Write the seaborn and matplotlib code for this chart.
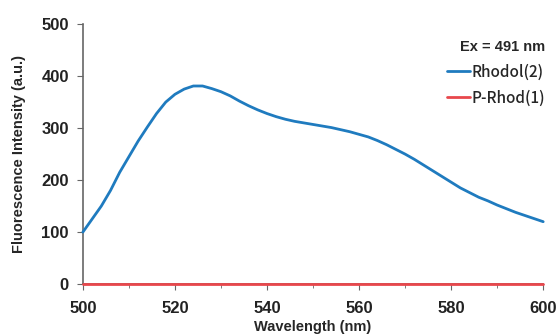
import numpy as np
import pandas as pd
import matplotlib
matplotlib.use("Agg")
import matplotlib.pyplot as plt
import seaborn as sns
from matplotlib.ticker import MultipleLocator

wavelength = [500, 502, 504, 506, 508, 510, 512, 514, 516, 518, 520, 522, 524, 526, 528,
              530, 532, 534, 536, 538, 540, 542, 544, 546, 548, 550, 552, 554, 556, 558,
              560, 562, 564, 566, 568, 570, 572, 574, 576, 578, 580, 582, 584, 586, 588,
              590, 592, 594, 596, 598, 600]
rhodol = [100, 125, 150, 180, 215, 245, 275, 302, 328, 350, 365, 375, 381, 381, 376,
          370, 362, 352, 343, 335, 328, 322, 317, 313, 310, 307, 304, 301, 297, 293,
          288, 283, 276, 268, 259, 250, 240, 229, 218, 207, 196, 185, 176, 167, 160,
          152, 145, 138, 132, 126, 120]
prhod = [0] * len(wavelength)
series_names = ["Rhodol(2)", "P-Rhod(1)"]
colors = ["#1f7bbf", "#e8474c"]

df = pd.concat([
    pd.DataFrame({"Wavelength": wavelength, "Intensity": rhodol, "Sample": series_names[0]}),
    pd.DataFrame({"Wavelength": wavelength, "Intensity": prhod, "Sample": series_names[1]}),
])

sns.set_style("ticks")
plt.rcParams['font.family'] = ['Liberation Sans', 'DejaVu Sans']

fig = plt.figure(figsize=(5.6, 3.35), dpi=100)
ax = fig.add_axes([0.148, 0.152, 0.822, 0.776])
sns.lineplot(data=df, x="Wavelength", y="Intensity", hue="Sample",
             palette=dict(zip(series_names, colors)), linewidth=2, ax=ax)
for ln in ax.get_lines():
    ln.set_clip_on(False)
    ln.set_zorder(5)

ax.set_xlim(500, 600)
ax.set_ylim(0, 500)
ax.xaxis.set_major_locator(MultipleLocator(20))
ax.xaxis.set_minor_locator(MultipleLocator(10))
ax.yaxis.set_major_locator(MultipleLocator(100))
for s in ["top", "right"]:
    ax.spines[s].set_visible(False)
for s in ["left", "bottom"]:
    ax.spines[s].set_color("#666666")
    ax.spines[s].set_linewidth(1.2)
ax.tick_params(axis="both", which="major", length=4, color="#666666", labelsize=12)
ax.tick_params(axis="x", which="major", pad=8)
ax.tick_params(axis="y", which="major", pad=6)
ax.tick_params(axis="x", which="minor", length=3, color="#666666")
for lab in ax.get_xticklabels() + ax.get_yticklabels():
    lab.set_fontweight("bold")
    lab.set_color("#222222")

ax.set_xlabel("Wavelength (nm)", fontsize=10.5, fontweight="bold", labelpad=3)
ax.set_ylabel("Fluorescence Intensity (a.u.)", fontsize=10.5, fontweight="bold", labelpad=11)

leg = ax.legend(title="Ex = 491 nm", loc="upper right", bbox_to_anchor=(1.035, 0.99),
                frameon=False, handlelength=1.5, handletextpad=0.1,
                labelspacing=0.6, alignment="right",
                prop={"family": ["Noto Sans CJK JP", "DejaVu Sans"], "size": 11, "weight": "medium"})
leg.get_title().set_fontweight("bold")
leg.get_title().set_fontsize(10.5)
for line in leg.get_lines():
    line.set_linewidth(2)

fig.savefig("out.png", dpi=100)
